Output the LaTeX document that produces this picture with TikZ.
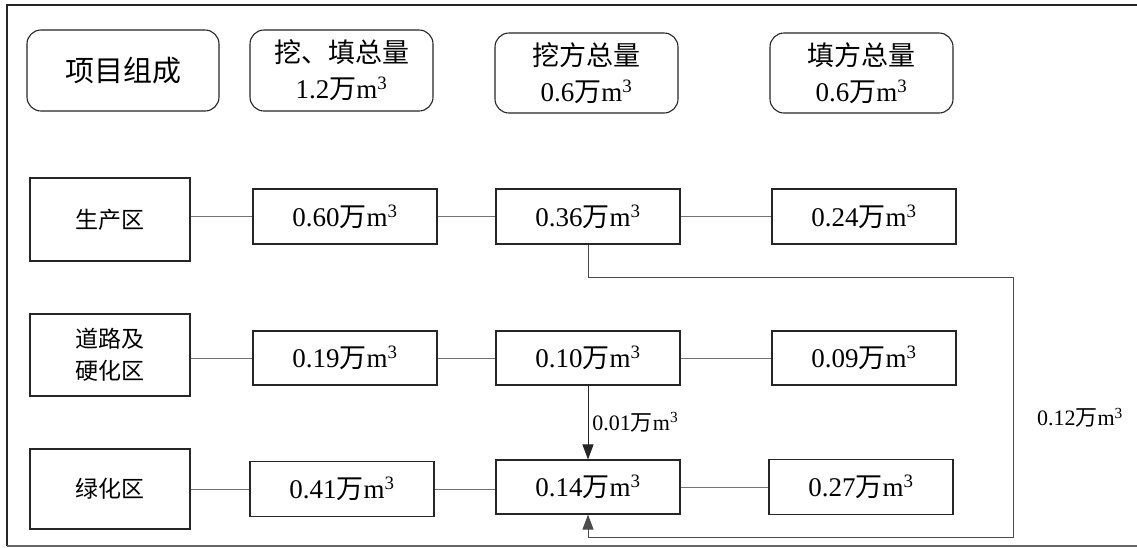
\documentclass[tikz,border=0pt]{standalone}
\usepackage{fontspec}
\setmainfont{Liberation Serif}
\newfontfamily\cjk{Noto Sans CJK SC}
\usetikzlibrary{arrows.meta}
\newcommand\wanm[1]{#1{\cjk 万}m\textsuperscript{3}}
\begin{document}
\begin{tikzpicture}[x=1pt,y=-1pt,
  tbox/.style={draw=black!85,line width=1.1pt,rounded corners=14pt,minimum width=183pt,minimum height=80pt,align=center,inner sep=0pt,font=\fontsize{27}{36}\selectfont},
  rbox/.style={draw=black!85,line width=1.1pt,minimum width=184pt,minimum height=55pt,inner sep=0pt,font=\fontsize{27}{32}\selectfont},
  lbox/.style={draw=black!85,line width=1.1pt,minimum width=160pt,minimum height=82pt,align=center,inner sep=0pt,font=\fontsize{23}{32}\selectfont\cjk},
  link/.style={draw=black!55,line width=0.8pt},
  flow/.style={draw=black!85,line width=0.9pt},
  arr/.style={-{Triangle[length=15pt,width=11pt]}},
  lab/.style={font=\fontsize{22}{26}\selectfont,inner sep=0pt}]
\useasboundingbox (0,0) rectangle (1137,547);
\fill[white] (0,0) rectangle (1137,547);
% frame
\draw[black!85,line width=1.6pt] (1137,5) -- (7,5) -- (7,546);
\draw[black!60,line width=1.1pt] (7,546) -- (1137,546);
% header
\node[tbox,minimum width=192pt,minimum height=81pt,font=\fontsize{29}{36}\selectfont\cjk] (h1) at (123,70.5) {项目组成};
\node[tbox,minimum height=81pt] (h2) at (341.5,70.5) {{\cjk 挖、填总量}\\\wanm{1.2}};
\node[tbox] (h3) at (586.5,73) {{\cjk 挖方总量}\\\wanm{0.6}};
\node[tbox] (h4) at (861.5,73) {{\cjk 填方总量}\\\wanm{0.6}};
% row 1
\node[lbox,minimum height=83pt] (a1) at (110,219.5) {生产区};
\node[rbox] (b1) at (345,216.5) {\wanm{0.60}};
\node[rbox] (c1) at (588,216.5) {\wanm{0.36}};
\node[rbox] (d1) at (864,216.5) {\wanm{0.24}};
% row 2
\node[lbox] (a2) at (110,355) {道路及\\硬化区};
\node[rbox,minimum height=54pt] (b2) at (345,358) {\wanm{0.19}};
\node[rbox,minimum height=54pt] (c2) at (588,358) {\wanm{0.10}};
\node[rbox,minimum height=54pt] (d2) at (864,358) {\wanm{0.09}};
% row 3
\node[lbox,minimum height=80pt] (a3) at (110,489) {绿化区};
\node[rbox] (b3) at (342,489) {\wanm{0.41}};
\node[rbox,minimum height=54pt] (c3) at (588,487) {\wanm{0.14}};
\node[rbox] (d3) at (861,487) {\wanm{0.27}};
% links
\draw[link] (a1.east |- b1.west) -- (b1.west);
\draw[link] (b1) -- (c1);
\draw[link] (c1) -- (d1);
\draw[link] (a2.east |- b2.west) -- (b2.west);
\draw[link] (b2) -- (c2);
\draw[link] (c2) -- (d2);
\draw[link] (a3) -- (b3.west);
\draw[link] (b3.east) -- (c3.west |- b3.east);
\draw[link] (c3) -- (d3);
% flows
\draw[flow,arr] (c2.south) -- node[lab,anchor=west,xshift=4pt] {\wanm{0.01}} (c3.north);
\coordinate (r1) at (1013,277);
\coordinate (r2) at (1013,537);
\draw[flow,draw=black!70,arr] (c1.south) |- (r1) -- (r2) -| (c3.south);
\node[lab] (l12) at (1080,418) {\wanm{0.12}};
\end{tikzpicture}
\end{document}
